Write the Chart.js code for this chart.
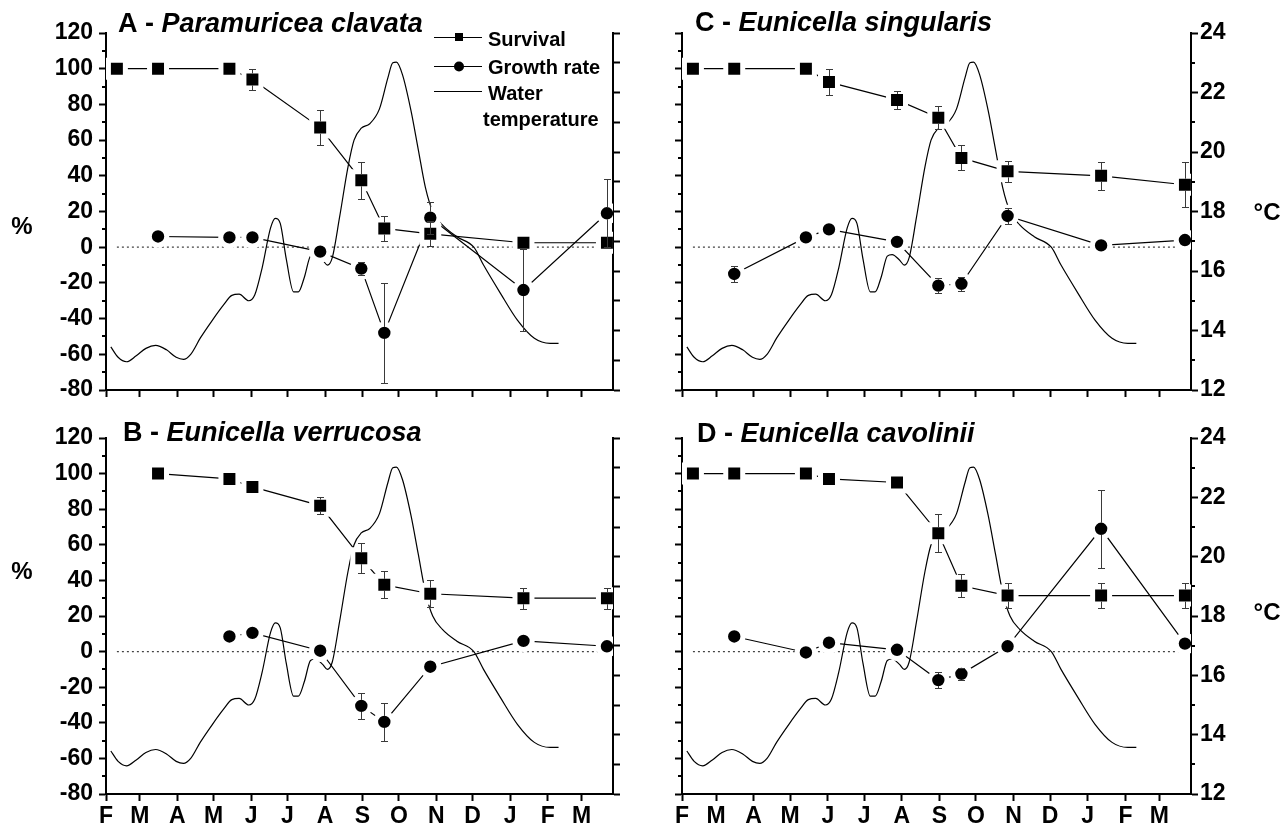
<!DOCTYPE html>
<html>
<head>
<meta charset="utf-8">
<title>Gorgonian survival and growth</title>
<script src="https://cdn.jsdelivr.net/npm/chart.js@4/dist/chart.umd.min.js"></script>
<style>
  body { margin: 0; background: #fff; }
  #wrap { position: relative; width: 1288px; height: 826px; }
  canvas { position: absolute; }
</style>
</head>
<body>
<div id="wrap">
  <canvas id="cA" style="left:0;top:0" width="644" height="412"></canvas>
  <canvas id="cC" style="left:644px;top:0" width="644" height="412"></canvas>
  <canvas id="cB" style="left:0;top:412px" width="644" height="414"></canvas>
  <canvas id="cD" style="left:644px;top:412px" width="644" height="414"></canvas>
</div>
<script>
// ================== DATA ==================
// x = days since 1 February
const monthStarts = [0, 28, 59, 89, 120, 150, 181, 212, 242, 273, 303, 334, 365, 393];
const monthLabels = ["F", "M", "A", "M", "J", "J", "A", "S", "O", "N", "D", "J", "F", "M"];
const leftMinorTicks = [-70, -50, -30, -10, 10, 30, 50, 70, 90, 110];
const rightMinorTicks = [13, 15, 17, 19, 21, 23];

const sampleDays = [9, 43, 102, 121, 177, 211, 230, 268, 345, 414];
const zeroDays = [9, 414];

// water temperature (°C)
const tempDays = [4, 10, 17, 25, 33, 41, 50, 58, 64, 70, 78, 88, 97, 104, 110, 118, 123, 129, 136, 140,
  144, 149, 155, 159, 164, 169, 173, 179, 183, 187, 193, 200, 205, 211, 218, 226, 233, 237, 240, 245,
  252, 258, 264, 270, 278, 290, 304, 312, 326, 340, 354, 367, 374];
const tempValues = [13.45, 13.1, 12.95, 13.15, 13.4, 13.5, 13.35, 13.1, 13.03, 13.2, 13.75, 14.35, 14.85, 15.18, 15.22, 15.0, 15.2, 16.1, 17.45, 17.77,
  17.6, 16.4, 15.3, 15.3, 15.8, 16.5, 16.55, 16.37, 16.2, 16.45, 17.8, 19.5, 20.4, 20.8, 20.95, 21.45, 22.5, 23.0, 23.02, 22.6,
  21.4, 20.1, 18.8, 18.0, 17.55, 17.15, 16.8, 16.2, 15.25, 14.35, 13.74, 13.57, 13.57];

// A - Paramuricea clavata
const survA = [100, 100, 100, 94, 67, 37.5, 10.5, 7.5, 2.5, 2.5];
const survAErr = [0, 0, 0, 6, 10, 10.5, 7, 7, 0, 0];
const growA = [null, 6, 5.5, 5.5, -2.5, -12, -48, 16.5, -24, 19];
const growAErr = [0, 0, 0, 0, 0, 3.5, 28, 9, 23, 19];

// B - Eunicella verrucosa
const survB = [null, 100, 97, 92.5, 82, 52.5, 37.5, 32.5, 30, 30];
const survBErr = [0, 0, 0, 0, 4.8, 8.4, 7.6, 7.5, 5.8, 5.8];
const growB = [null, null, 8.5, 10.5, 0.5, -30.5, -39.5, -8.5, 6, 3];
const growBErr = [0, 0, 0, 0, 0, 7.3, 10.5, 0, 0, 0];

// C - Eunicella singularis
const survC = [100, 100, 100, 92.5, 82.5, 72.5, 50, 42.5, 40, 35];
const survCErr = [0, 0, 0, 7.5, 5, 6.5, 7, 6, 8, 12.5];
const growC = [null, -15, 5.5, 10, 3, -21.5, -20.5, 17.5, 1, 4];
const growCErr = [0, 4.7, 0, 0, 0, 4.4, 4, 4.7, 0, 0];

// D - Eunicella cavolinii
const survD = [100, 100, 100, 97, 95, 66.5, 37, 31.5, 31.5, 31.5];
const survDErr = [0, 0, 0, 0, 0, 10.7, 6.6, 7, 7, 7];
const growD = [null, 8.5, -0.5, 5, 1, -16, -12.5, 3, 69, 4.5];
const growDErr = [0, 0, 0, 0, 0, 4.3, 3.5, 0, 21.8, 0];

// ================== HELPERS ==================
const FONT = "'Liberation Sans', Arial, Helvetica, sans-serif";

function toPoints(vals, errs) {
  const pts = [], es = [];
  vals.forEach((v, i) => {
    if (v === null) return;
    pts.push({ x: sampleDays[i], y: v });
    es.push(errs[i]);
  });
  return { pts, es };
}

// error bars, drawn after markers, with a gap where the marker sits
const errorBars = {
  id: "errorBars",
  afterDatasetsDraw(chart) {
    const ctx = chart.ctx;
    chart.data.datasets.forEach((ds, i) => {
      if (!ds.errors) return;
      const meta = chart.getDatasetMeta(i);
      const ys = chart.scales[ds.yAxisID || "y"];
      ctx.save();
      ctx.strokeStyle = "#3a3a3a";
      ctx.lineWidth = 1;
      ds.data.forEach((p, j) => {
        const e = ds.errors[j];
        if (!e) return;
        const x = Math.round(meta.data[j].x) + 0.5;
        const y = ys.getPixelForValue(p.y);
        const top = Math.round(ys.getPixelForValue(p.y + e)) + 0.5;
        const bot = Math.round(ys.getPixelForValue(p.y - e)) + 0.5;
        const h = 6;
        ctx.beginPath();
        if (top < y - h) { ctx.moveTo(x, top); ctx.lineTo(x, y - h); }
        if (bot > y + h) { ctx.moveTo(x, y + h); ctx.lineTo(x, bot); }
        ctx.moveTo(x - 3.5, top); ctx.lineTo(x + 3.5, top);
        ctx.moveTo(x - 3.5, bot); ctx.lineTo(x + 3.5, bot);
        ctx.stroke();
      });
      ctx.restore();
    });
  }
};

// short minor ticks on the y axes
const minorTicks = {
  id: "minorTicks",
  afterDraw(chart, args, opts) {
    const ctx = chart.ctx;
    ctx.save();
    ctx.strokeStyle = "#000";
    ctx.lineWidth = 2;
    const y = chart.scales.y;
    leftMinorTicks.forEach(v => {
      const py = Math.round(y.getPixelForValue(v));
      ctx.beginPath(); ctx.moveTo(y.right, py); ctx.lineTo(y.right - 4, py); ctx.stroke();
    });
    if (opts.right) {
      const t = chart.scales.yT;
      rightMinorTicks.forEach(v => {
        const py = Math.round(t.getPixelForValue(v));
        ctx.beginPath(); ctx.moveTo(t.left, py); ctx.lineTo(t.left + 4, py); ctx.stroke();
      });
    }
    ctx.restore();
  }
};

// panel title, unit label and (panel A only) legend
const panelText = {
  id: "panelText",
  afterDraw(chart, args, o) {
    const ctx = chart.ctx;
    ctx.save();
    ctx.fillStyle = "#000";
    ctx.textBaseline = "middle";
    ctx.textAlign = "left";

    ctx.font = "bold 27px " + FONT;
    const head = o.letter + " - ";
    ctx.fillText(head, o.titleX, o.titleY);
    const w = ctx.measureText(head).width;
    ctx.font = "italic bold 27px " + FONT;
    ctx.fillText(o.species, o.titleX + w, o.titleY);

    ctx.font = "bold 24px " + FONT;
    ctx.textAlign = "center";
    ctx.fillText(o.unit, o.unitX, o.unitY);

    if (o.legend) {
      ctx.textAlign = "left";
      ctx.strokeStyle = "#000";
      ctx.lineWidth = 1.2;
      const x0 = 434, x1 = 482, xm = 459;
      [37, 66, 91].forEach(y => {
        ctx.beginPath(); ctx.moveTo(x0, y + 0.5); ctx.lineTo(x1, y + 0.5); ctx.stroke();
      });
      ctx.fillStyle = "#000";
      ctx.fillRect(xm - 4, 33, 8, 8);
      ctx.beginPath(); ctx.arc(xm, 66.5, 5, 0, Math.PI * 2); ctx.fill();
      ctx.font = "bold 20px " + FONT;
      ctx.fillText("Survival", 488, 40);
      ctx.fillText("Growth rate", 488, 68);
      ctx.fillText("Water", 488, 94);
      ctx.fillText("temperature", 483, 120);
    }
    ctx.restore();
  }
};

// ================== PANELS ==================
const panels = [
  { id: "cA", letter: "A", species: "Paramuricea clavata", surv: survA, survErr: survAErr, grow: growA, growErr: growAErr,
    leftLabels: true, rightLabels: false, xLabels: false, legend: true,
    leftW: 106, rightW: 31, top: 33, bottomH: 22, titleX: 118, titleY: 25, unit: "%", unitX: 22, unitY: 227 },
  { id: "cB", letter: "B", species: "Eunicella verrucosa", surv: survB, survErr: survBErr, grow: growB, growErr: growBErr,
    leftLabels: true, rightLabels: false, xLabels: true, legend: false,
    leftW: 106, rightW: 31, top: 26, bottomH: 32, titleX: 123, titleY: 22, unit: "%", unitX: 22, unitY: 160 },
  { id: "cC", letter: "C", species: "Eunicella singularis", surv: survC, survErr: survCErr, grow: growC, growErr: growCErr,
    leftLabels: false, rightLabels: true, xLabels: false, legend: false,
    leftW: 38, rightW: 97, top: 33, bottomH: 22, titleX: 51, titleY: 24, unit: "°C", unitX: 623, unitY: 213 },
  { id: "cD", letter: "D", species: "Eunicella cavolinii", surv: survD, survErr: survDErr, grow: growD, growErr: growDErr,
    leftLabels: false, rightLabels: true, xLabels: true, legend: false,
    leftW: 38, rightW: 97, top: 26, bottomH: 32, titleX: 53, titleY: 23, unit: "°C", unitX: 623, unitY: 201 }
];

const tickFont = { family: FONT, size: 23, weight: "bold" };
const axisGrid = { drawOnChartArea: false, drawTicks: true, tickLength: 7, tickWidth: 2, tickColor: "#000" };
const axisBorder = { display: true, color: "#000", width: 2 };

panels.forEach(p => {
  const s = toPoints(p.surv, p.survErr);
  const g = toPoints(p.grow, p.growErr);

  new Chart(document.getElementById(p.id), {
    type: "line",
    data: {
      datasets: [
        {
          label: "Survival", data: s.pts, errors: s.es, yAxisID: "y",
          borderColor: "#000", borderWidth: 1.2, backgroundColor: "#000",
          pointStyle: "rect", pointRadius: 12, pointBackgroundColor: "#000",
          pointBorderColor: "#fff", pointBorderWidth: 5, order: 1
        },
        {
          label: "Growth rate", data: g.pts, errors: g.es, yAxisID: "y",
          borderColor: "#000", borderWidth: 1.2, backgroundColor: "#000",
          pointStyle: "circle", pointRadius: 8.7, pointBackgroundColor: "#000",
          pointBorderColor: "#fff", pointBorderWidth: 5, order: 2
        },
        {
          label: "Water temperature", yAxisID: "yT",
          data: tempDays.map((d, i) => ({ x: d, y: tempValues[i] })),
          borderColor: "#000", borderWidth: 1.2, pointRadius: 0,
          cubicInterpolationMode: "monotone", order: 3
        },
        {
          label: "zero", yAxisID: "y",
          data: zeroDays.map(d => ({ x: d, y: 0 })),
          borderColor: "#444", borderWidth: 1.2, borderDash: [2, 3], pointRadius: 0, order: 4
        }
      ]
    },
    options: {
      responsive: false,
      animation: false,
      events: [],
      layout: { padding: { top: p.top, left: 0, right: 0, bottom: 0 } },
      plugins: {
        legend: { display: false },
        tooltip: { enabled: false },
        minorTicks: { right: p.rightLabels },
        panelText: p
      },
      scales: {
        x: {
          type: "linear", position: "bottom", min: 0, max: 419,
          afterBuildTicks: sc => { sc.ticks = monthStarts.map(v => ({ value: v })); },
          afterFit: sc => { sc.height = p.bottomH; },
          grid: axisGrid, border: axisBorder,
          ticks: {
            display: p.xLabels, autoSkip: false, maxRotation: 0, padding: 2,
            color: "#000", font: tickFont,
            callback: (v, i) => monthLabels[i]
          }
        },
        y: {
          type: "linear", position: "left", min: -80, max: 120,
          afterFit: sc => { sc.width = p.leftW; },
          grid: axisGrid, border: axisBorder,
          ticks: { display: p.leftLabels, stepSize: 20, padding: 6, color: "#000", font: tickFont }
        },
        yT: {
          type: "linear", position: "right", min: 12, max: 24,
          afterFit: sc => { sc.width = p.rightW; },
          grid: axisGrid, border: axisBorder,
          ticks: { display: p.rightLabels, stepSize: p.rightLabels ? 2 : 1, padding: 2, color: "#000", font: tickFont }
        }
      }
    },
    plugins: [errorBars, minorTicks, panelText]
  });
});
</script>
</body>
</html>
